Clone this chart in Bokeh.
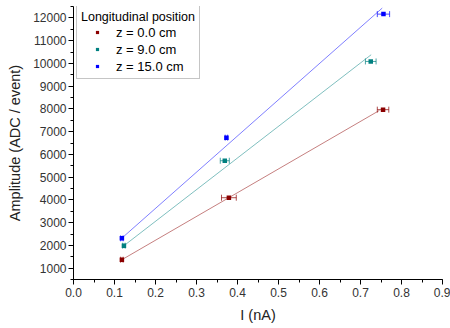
from bokeh.plotting import figure
from bokeh.models import (ColumnDataSource, Whisker, TeeHead, Legend, LegendItem,
                          SingleIntervalTicker, PrintfTickFormatter, Range1d)
from bokeh.embed import file_html
from bokeh.resources import INLINE

# ---- data ----
series_labels = ["z = 0.0 cm", "z = 9.0 cm", "z = 15.0 cm"]
series_colors = ["#8b0000", "#008080", "#0000ff"]

x_z0 = [0.118, 0.379, 0.755]
y_z0 = [1370, 4095, 7965]
xerr_z0 = [0.003, 0.018, 0.014]

x_z9 = [0.123, 0.369, 0.725]
y_z9 = [1985, 5720, 10085]
xerr_z9 = [0.003, 0.011, 0.013]

x_z15 = [0.118, 0.373, 0.756]
y_z15 = [2310, 6735, 12165]
xerr_z15 = [0.003, 0.003, 0.015]

# linear-fit lines (end points)
fit_z0_x = [0.118, 0.746]
fit_z0_y = [1370, 7930]
fit_z9_x = [0.123, 0.726]
fit_z9_y = [1985, 10380]
fit_z15_x = [0.118, 0.753]
fit_z15_y = [2320, 12430]

FONT = "Liberation Sans"

p = figure(width=450, height=328, output_backend="svg", toolbar_location=None,
           x_range=Range1d(0, 0.9), y_range=Range1d(500, 12500),
           min_border_left=73, min_border_right=8, min_border_top=6,
           min_border_bottom=49)
p.outline_line_color = None
p.xgrid.visible = False
p.ygrid.visible = False
p.background_fill_color = "white"
p.border_fill_color = "white"

series = [
    (x_z0, y_z0, xerr_z0, fit_z0_x, fit_z0_y),
    (x_z9, y_z9, xerr_z9, fit_z9_x, fit_z9_y),
    (x_z15, y_z15, xerr_z15, fit_z15_x, fit_z15_y),
]

items = []
for (xs, ys, xe, fx, fy), lab, col in zip(series, series_labels, series_colors):
    p.line(fx, fy, line_color=col, line_alpha=0.5, line_width=1)
    src = ColumnDataSource(dict(x=xs, y=ys,
                                lo=[a - b for a, b in zip(xs, xe)],
                                hi=[a + b for a, b in zip(xs, xe)]))
    w = Whisker(source=src, base="y", lower="lo", upper="hi", dimension="width",
                line_color=col, line_alpha=0.7, line_width=1,
                lower_head=TeeHead(size=6, line_color=col, line_alpha=0.7, line_width=1),
                upper_head=TeeHead(size=6, line_color=col, line_alpha=0.7, line_width=1))
    p.add_layout(w)
    r = p.scatter("x", "y", source=src, marker="square", size=4.5,
                  fill_color=col, line_color=None)
    items.append(LegendItem(label=lab, renderers=[r]))

# axes
for ax in (p.xaxis[0], p.yaxis[0]):
    ax.axis_line_color = "black"
    ax.major_tick_line_color = "black"
    ax.minor_tick_line_color = "black"
    ax.major_tick_in = 0
    ax.major_tick_out = 5
    ax.minor_tick_in = 0
    ax.minor_tick_out = 3
    ax.major_label_text_font = FONT
    ax.major_label_text_font_size = "12px"
    ax.major_label_text_color = "#333333"
    ax.axis_label_text_font = FONT
    ax.axis_label_text_font_size = "14.5px"
    ax.axis_label_text_font_style = "normal"
    ax.axis_label_text_color = "#222222"

p.xaxis[0].ticker = SingleIntervalTicker(interval=0.1, num_minor_ticks=2)
p.xaxis[0].formatter = PrintfTickFormatter(format="%.1f")
p.xaxis[0].axis_label = "I (nA)"
p.xaxis[0].major_label_standoff = 3
p.xaxis[0].axis_label_standoff = 7

p.yaxis[0].ticker = SingleIntervalTicker(interval=1000, num_minor_ticks=2)
p.yaxis[0].formatter = PrintfTickFormatter(format="%d")
p.yaxis[0].axis_label = "Amplitude (ADC / event)"
p.yaxis[0].major_label_standoff = 2
p.yaxis[0].axis_label_standoff = 7

legend = Legend(items=items, location=(3, 200),
                title="Longitudinal position",
                title_text_font=FONT, title_text_font_size="12.5px",
                title_text_font_style="normal", title_text_color="black",
                title_standoff=0,
                label_text_font=FONT, label_text_font_size="13px",
                label_text_color="black",
                label_height=16, label_standoff=3,
                glyph_width=32, glyph_height=8,
                spacing=1, padding=4, margin=0,
                border_line_color="#8c8c8c", border_line_width=1,
                background_fill_color="white", background_fill_alpha=1.0)
p.add_layout(legend, "center")

open("out.html", "w").write(file_html(p, INLINE))
